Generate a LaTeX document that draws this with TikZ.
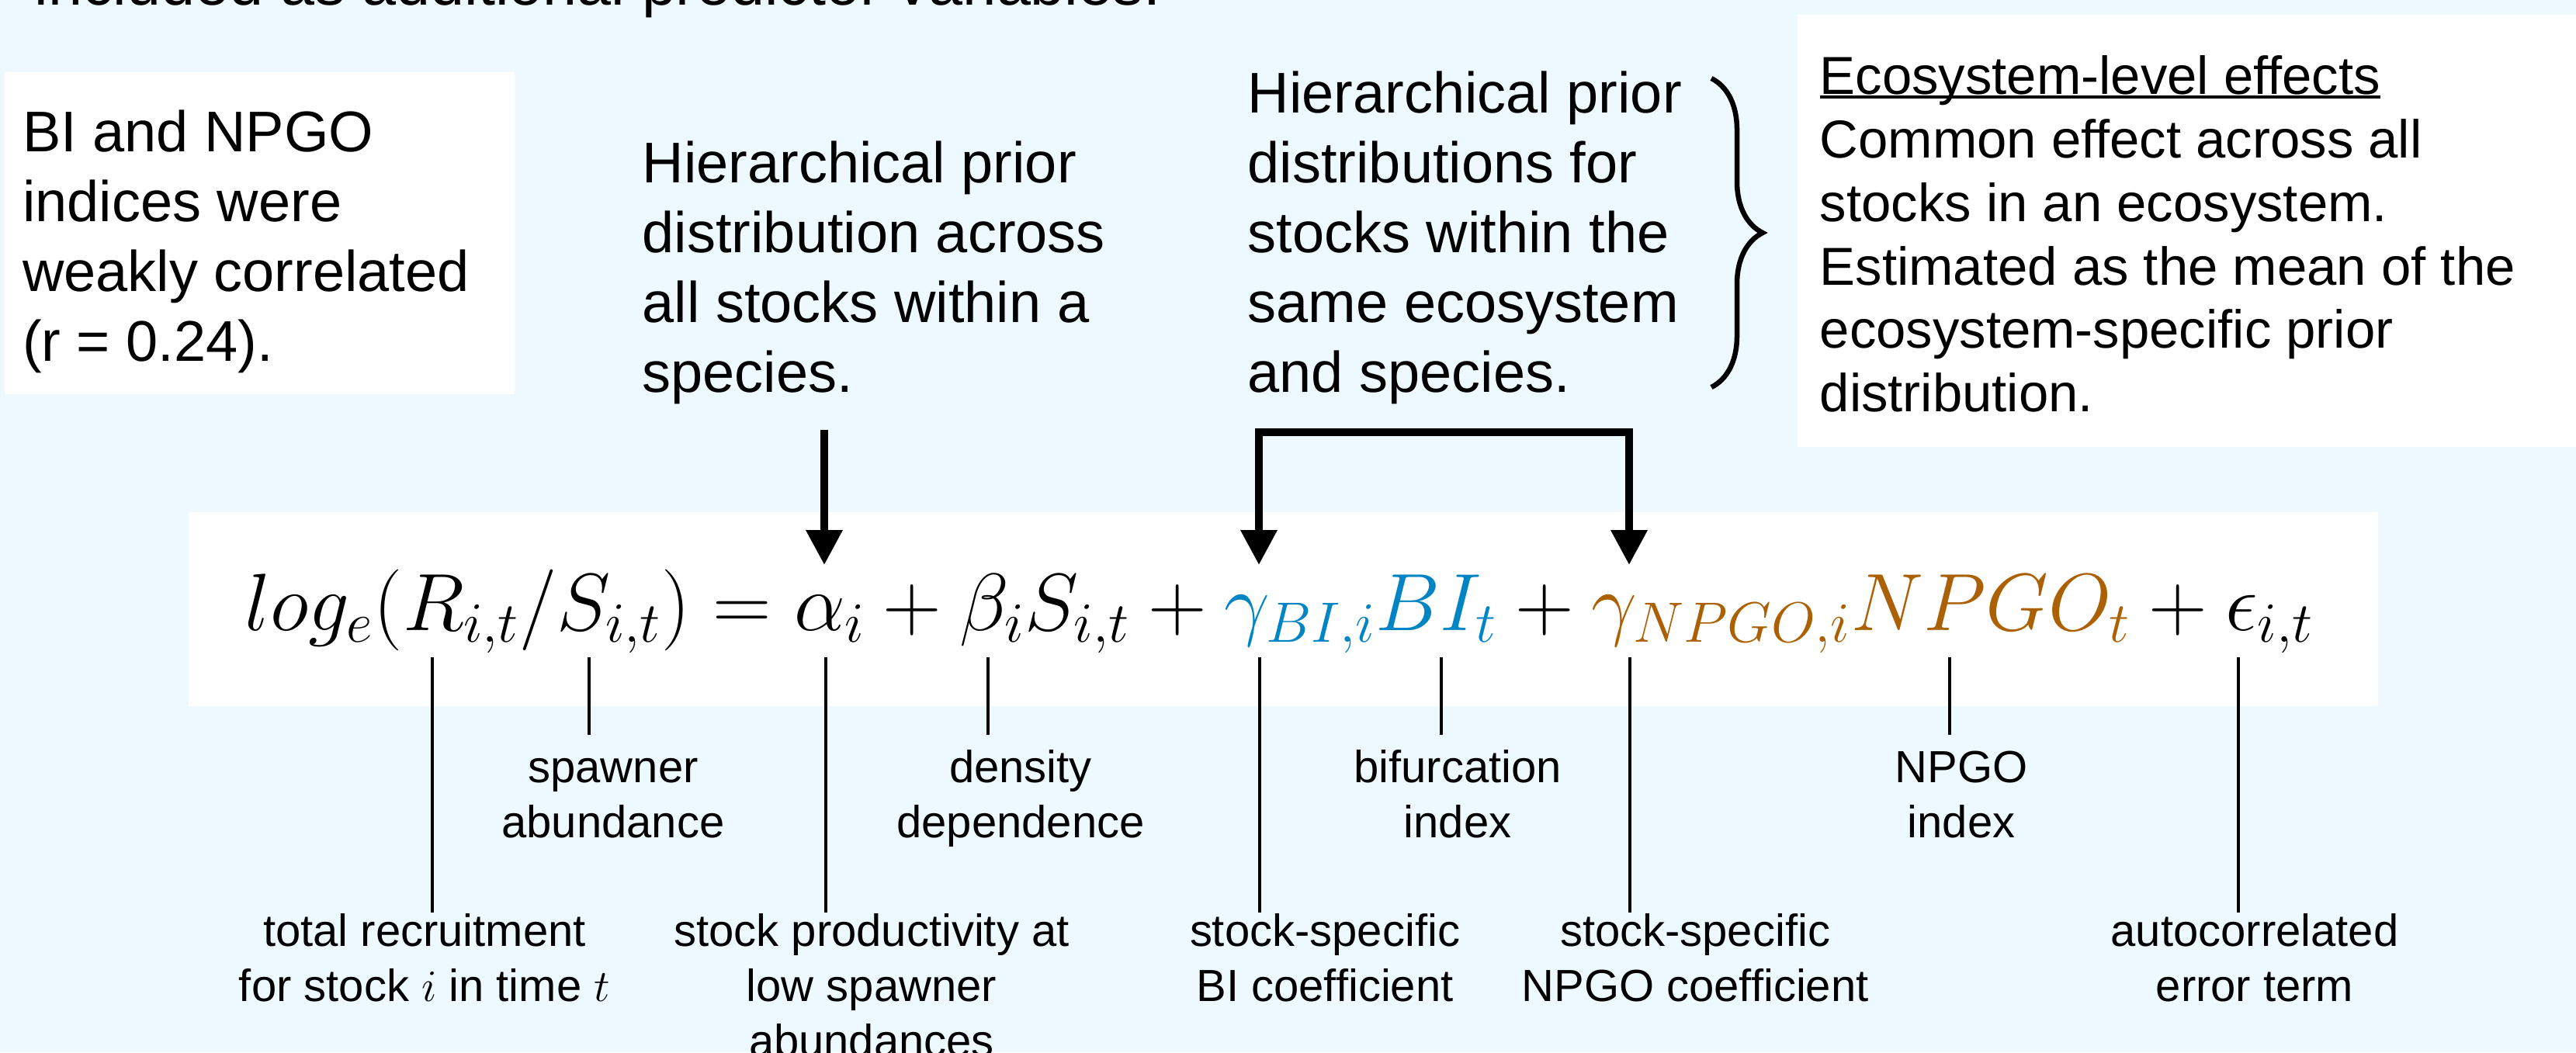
\documentclass[tikz,border=0pt]{standalone}
\usepackage{fix-cm}
\usepackage{fontspec}
\setmainfont{Liberation Sans}
\usepackage{xcolor}
\usetikzlibrary{arrows.meta,calc,decorations.pathreplacing}

\definecolor{bgblue}{RGB}{238,248,255}
\definecolor{biblue}{RGB}{0,132,196}
\definecolor{npgobrown}{RGB}{172,96,4}

\newcommand{\txtbig}{\fontsize{21.05}{25.6}\selectfont}
\newcommand{\txteco}{\fontsize{19.6}{23.3}\selectfont}
\newcommand{\txtlab}{\fontsize{16.5}{20.2}\selectfont}
\newcommand{\txteq}{\fontsize{29.8}{35}\selectfont}
\newcommand{\txttop}{\fontsize{22.5}{27}\selectfont}
\newcommand{\hstrut}{\rule{0pt}{0.75em}}
\newcommand{\ecoline}[1]{\setbox0\hbox{#1}\rlap{\rule[-0.075em]{\wd0}{0.05em}}\box0}

\begin{document}
\begin{tikzpicture}[
  panel/.style={fill=white, draw=none},
  txt/.style={inner sep=0pt, anchor=north west, align=left, font=\txtbig},
  ecotxt/.style={inner sep=0pt, anchor=north west, align=left, font=\txteco},
  lab/.style={inner sep=0pt, anchor=north, align=center, font=\txtlab},
  arr/.style={line width=0.1cm, -{Triangle[length=0.45cm,width=0.45cm]}},
  arrboth/.style={line width=0.1cm, {Triangle[length=0.45cm,width=0.45cm]}-{Triangle[length=0.45cm,width=0.45cm]}},
  stem/.style={line width=0.045cm}
]
\useasboundingbox (0,0) rectangle (33.19,-13.56);
\fill[bgblue] (0,0) rectangle (33.19,-13.56);

% white panels
\fill[panel] (0.06,-0.93) rectangle (6.63,-5.08);
\fill[panel] (23.16,-0.19) rectangle (33.19,-5.76);
\fill[panel] (2.43,-6.60) rectangle (30.64,-9.10);

\node[inner sep=0pt, anchor=base west, font=\txttop] (cut) at (0.44,-0.06) {included as additional predictor variables.};

\node[txt] (corr) at (0.285,-1.395) {\hstrut BI and NPGO\\ indices were\\ weakly correlated\\ (r = 0.24).};
\node[txt] (prior1) at (8.27,-1.795) {\hstrut Hierarchical prior\\ distribution across\\ all stocks within a\\ species.};
\node[txt] (prior2) at (16.07,-0.895) {\hstrut Hierarchical prior\\ distributions for\\ stocks within the\\ same ecosystem\\ and species.};
\node[ecotxt] (eco) at (23.44,-0.69) {\hstrut\ecoline{Ecosystem-level effects}\\ Common effect across all\\ stocks in an ecosystem.\\ Estimated as the mean of the\\ ecosystem-specific prior\\ distribution.};

\draw[line width=0.065cm, decorate, decoration={brace, amplitude=0.66cm}] (22.05,-1.01) -- (22.05,-4.99);

% model equation
\node[inner sep=0pt, anchor=base west] (eq) at (3.15,-8.12) {\txteq
  $log_e(R_{i,t}/S_{i,t}) = \alpha_i + \beta_i S_{i,t} + \textcolor{biblue}{\gamma_{BI,i}BI_t} + \textcolor{npgobrown}{\gamma_{NPGO,i}NPGO_t} + \epsilon_{i,t}$};

% arrows from the prior texts
\coordinate (tipA) at (10.62,-7.28);
\coordinate (tipB) at (16.22,-7.28);
\coordinate (tipN) at (20.99,-7.28);
\draw[arr] ($(tipA |- prior1.south)+(0,-0.32)$) -- (tipA);
\draw[arrboth] (tipB) |- ($(tipN |- prior2.south)+(0,-0.35)$) -| (tipN);

% term labels
\node[lab] (recr) at (5.47,-11.755) {\hstrut total recruitment\\ for stock $i$ in time $t$};
\node[lab] (spawn) at (7.90,-9.645) {\hstrut spawner\\ abundance};
\node[lab] (prod) at (11.23,-11.755) {\hstrut stock productivity at\\ low spawner\\ abundances};
\node[lab] (dens) at (13.15,-9.645) {\hstrut density\\ dependence};
\node[lab] (gbi) at (17.07,-11.755) {\hstrut stock-specific\\ BI coefficient};
\node[lab] (bifu) at (18.78,-9.645) {\hstrut bifurcation\\ index};
\node[lab] (gnp) at (21.84,-11.755) {\hstrut stock-specific\\ NPGO coefficient};
\node[lab] (npgo) at (25.27,-9.645) {\hstrut NPGO\\ index};
\node[lab] (err) at (29.05,-11.755) {\hstrut autocorrelated\\ error term};

\foreach \c/\x in {cR/5.57,cS/7.59,cA/10.64,cB/12.73,cG/16.23,cBI/18.57,cN/21.00,cNP/25.12,cE/28.84}
  \coordinate (\c) at (\x,-8.47);
\foreach \c/\l in {cR/recr,cA/prod,cG/gbi,cN/gnp,cE/err}
  \draw[stem] (\c) -- (\c |- \l.north);
\foreach \c/\l in {cS/spawn,cB/dens,cBI/bifu,cNP/npgo}
  \draw[stem, shorten >=0.175cm] (\c) -- (\c |- \l.north);
\end{tikzpicture}
\end{document}
